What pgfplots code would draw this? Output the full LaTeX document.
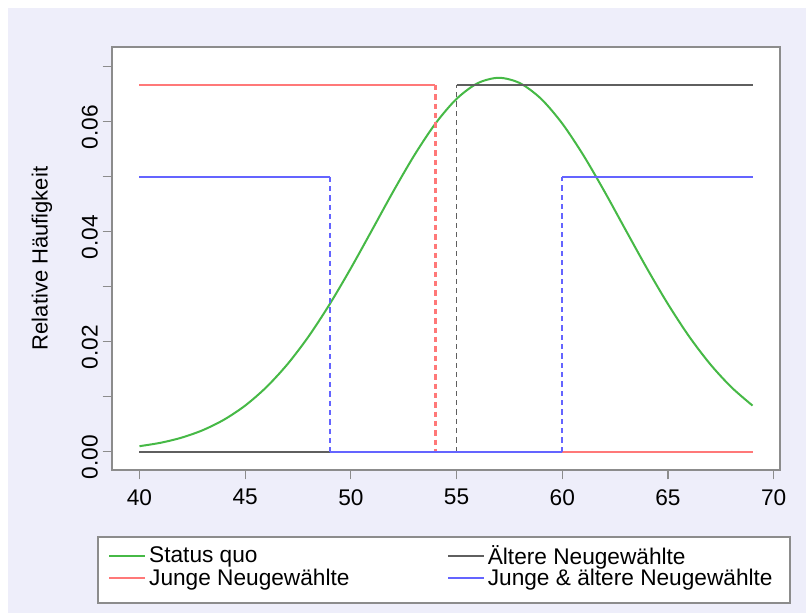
\documentclass[border=0pt]{standalone}
\usepackage{pgfplots}
\pgfplotsset{compat=1.18}
\usepackage{fontspec}
\setmainfont{Liberation Sans}
\definecolor{lav}{RGB}{238,238,250}
\definecolor{cgreen}{RGB}{70,185,70}
\definecolor{cred}{RGB}{255,120,120}
\definecolor{cgray}{RGB}{95,95,95}
\definecolor{cblue}{RGB}{100,100,255}
\definecolor{axgray}{RGB}{140,140,140}
\begin{document}
\begin{tikzpicture}
\fill[white] (0pt,0pt) rectangle (604.5pt,459.75pt);
\fill[lav] (6pt,0pt) rectangle (604.5pt,453.75pt);
\fill[white] (73.5pt,7.5pt) rectangle (592.5pt,57pt);
\draw[axgray, line width=0.8pt] (73.5pt,7.5pt) rectangle (592.5pt,57pt);
\begin{axis}[
  at={(84pt,107.25pt)}, anchor=south west,
  scale only axis, width=501pt, height=317.25pt,
  xmin=38.7, xmax=70.3, ymin=-0.0033, ymax=0.0736,
  axis background/.style={fill=white},
  axis line style={axgray, line width=0.8pt},
  tick style={axgray, line width=0.8pt},
  tick align=outside, major tick length=7pt, minor tick length=7pt,
  xtick={40,45,...,70},
  ytick={0,0.02,0.04,0.06},
  minor ytick={0.01,0.03,0.05,0.07},
  xtick pos=bottom, ytick pos=left,
  scaled y ticks=false,
  yticklabel style={rotate=90, anchor=south, xshift=-4pt, /pgf/number format/fixed, /pgf/number format/fixed zerofill, /pgf/number format/precision=2},
  /pgf/number format/assume math mode=true,
  ticklabel style={font=\fontsize{17}{18}\selectfont},
  xticklabel style={yshift=-4pt},
  ylabel={Relative Häufigkeit},
  every axis y label/.style={at={(axis description cs:-0.105,0.5)}, rotate=90, anchor=center, font=\fontsize{16.5}{18}\selectfont},
  legend columns=2, transpose legend,
  legend cell align=left,
  legend style={draw=none, fill=none, at={(-0.012,-0.228)}, anchor=west,
    font=\fontsize{17}{17}\selectfont, row sep=0pt, nodes={inner ysep=1pt},
    /tikz/every even column/.append style={column sep=71pt}},
  legend image code/.code={\draw[#1, solid] (0pt,0pt) -- (21pt,0pt); \path (0pt,0pt) -- (27pt,0pt);},
]
\addplot[cgreen, line width=1.5pt, smooth] coordinates {
(40,0.00103)(41,0.00165)(42,0.00259)(43,0.00395)(44,0.00585)(45,0.00841)
(46,0.01175)(47,0.01593)(48,0.02098)(49,0.02686)(50,0.03339)(51,0.04032)
(52,0.04731)(53,0.05391)(54,0.05968)(55,0.06417)(56,0.06702)(57,0.06800)
(58,0.06702)(59,0.06417)(60,0.05968)(61,0.05391)(62,0.04731)(63,0.04032)
(64,0.03339)(65,0.02686)(66,0.02098)(67,0.01593)(68,0.01175)(69,0.00841)};
\addlegendentry{Status quo}
\addplot[cred, line width=1.7pt] coordinates {(40,0.0667)(54,0.0667)};
\addlegendentry{Junge Neugewählte}
\addplot[cred, line width=1.7pt, forget plot] coordinates {(54,0)(69,0)};
\addplot[cred, line width=1.6pt, dash pattern=on 4pt off 3pt, forget plot] coordinates {(54,0.0667)(54,0)};
\addplot[cgray, line width=1.7pt] coordinates {(40,0)(55,0)};
\addlegendentry{Ältere Neugewählte}
\addplot[cgray, line width=1.7pt, forget plot] coordinates {(55,0.0667)(69,0.0667)};
\addplot[cgray, line width=1.2pt, dash pattern=on 4pt off 3pt, forget plot] coordinates {(55,0)(55,0.0667)};
\addplot[cblue, line width=1.7pt] coordinates {(40,0.05)(49,0.05)};
\addlegendentry{Junge \& ältere Neugewählte}
\addplot[cblue, line width=1.7pt, forget plot] coordinates {(49,0)(60,0)};
\addplot[cblue, line width=1.7pt, forget plot] coordinates {(60,0.05)(69,0.05)};
\addplot[cblue, line width=1.2pt, dash pattern=on 4pt off 3pt, forget plot] coordinates {(49,0.05)(49,0)};
\addplot[cblue, line width=1.2pt, dash pattern=on 4pt off 3pt, forget plot] coordinates {(60,0)(60,0.05)};
\end{axis}
\end{tikzpicture}
\end{document}
